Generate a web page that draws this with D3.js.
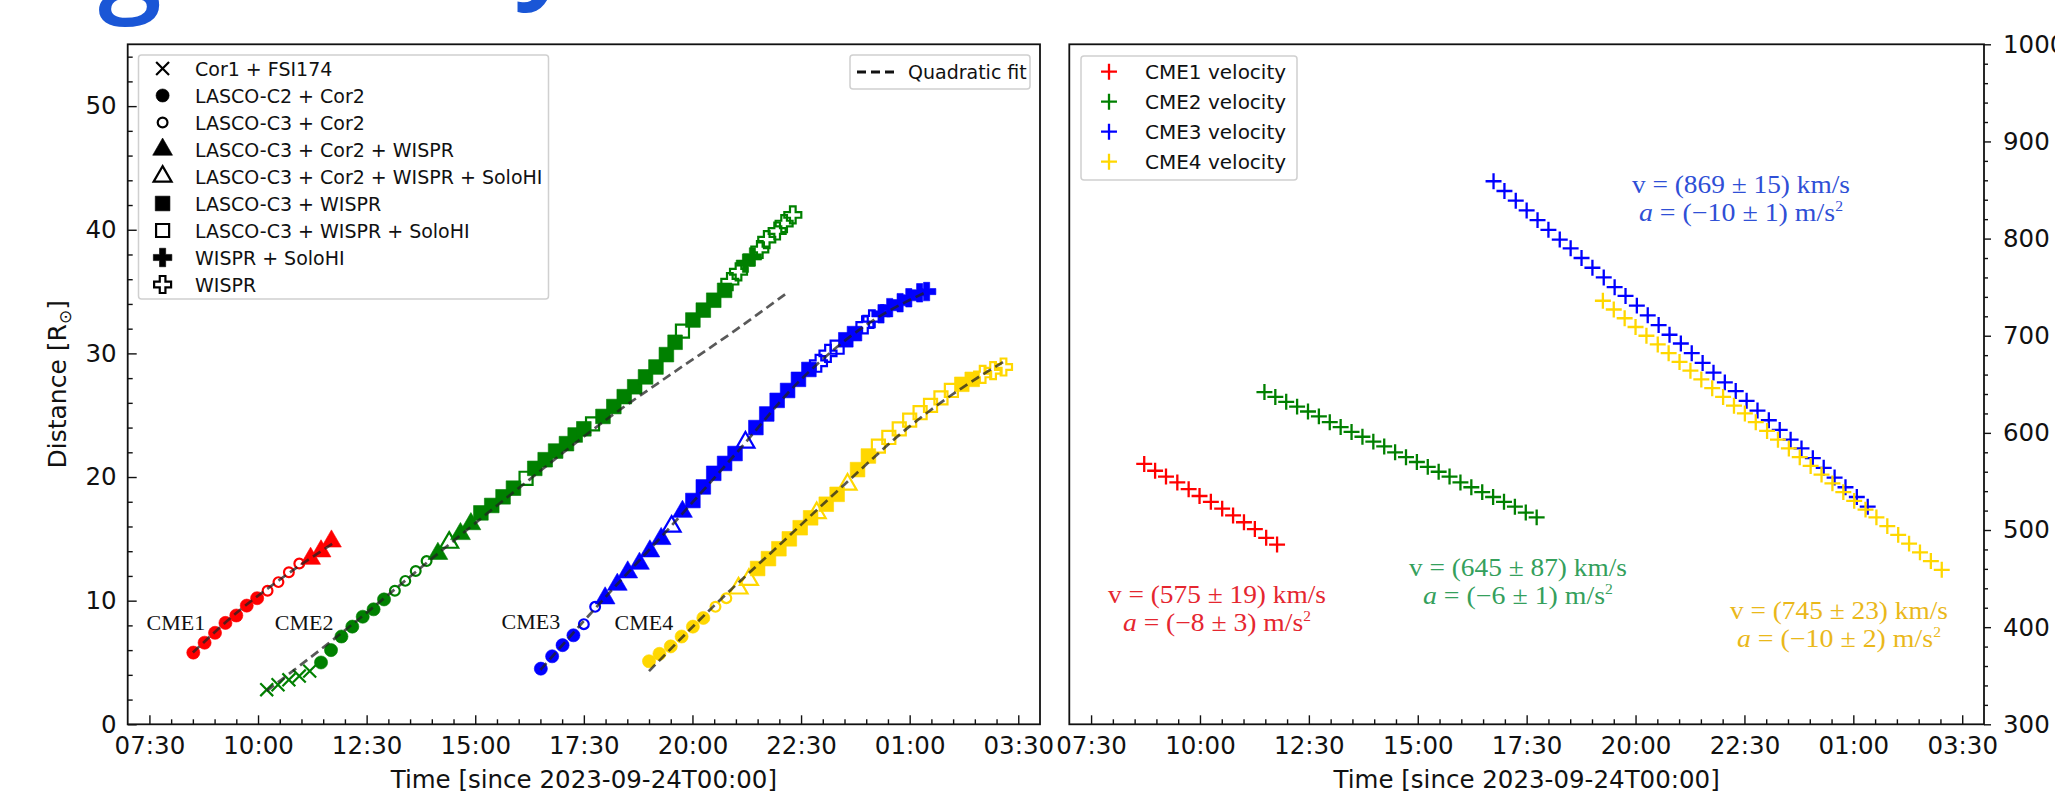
<!DOCTYPE html>
<html>
<head>
<meta charset="utf-8">
<script src="https://cdn.jsdelivr.net/npm/d3@7"></script>
<style>
body { margin: 0; background: #fff; }
svg { display: block; }
text { font-family: "DejaVu Sans", sans-serif; fill: #111; }
</style>
</head>
<body>
<svg id="chart" width="2055" height="797"></svg>
<script>
// ---- data (hours since 2023-09-24T00:00) ----
var timeTicks = [7.5, 10, 12.5, 15, 17.5, 20, 22.5, 25, 27.5]
var timeTickLabels = ["07:30", "10:00", "12:30", "15:00", "17:30", "20:00", "22:30", "01:00", "03:30"]
var distTicks = [0, 10, 20, 30, 40, 50]
var velTicks = [300, 400, 500, 600, 700, 800, 900, 1000]

var cme1T = [8.51, 8.77, 9.01, 9.25, 9.50, 9.74, 9.98, 10.22, 10.47, 10.71, 10.95, 11.21, 11.45, 11.69]
var cme1R = [5.8, 6.6, 7.4, 8.2, 8.8, 9.6, 10.2, 10.8, 11.5, 12.3, 13.0, 13.4, 14.0, 14.8]
var cme1M = ["c","c","c","c","c","c","c","oc","oc","oc","oc","t","t","t"]

var cme2T = [10.20, 10.46, 10.71, 10.95, 11.19, 11.45, 11.68, 11.92, 12.17, 12.41, 12.66, 12.90,
  13.15, 13.39, 13.63, 13.88, 14.14, 14.40, 14.66, 14.90, 15.13, 15.38, 15.64, 15.88, 16.17, 16.37,
  16.61, 16.85, 17.10, 17.30, 17.50, 17.70, 17.94, 18.19, 18.43, 18.67, 18.92, 19.16, 19.40, 19.60,
  19.77, 20.01, 20.25, 20.49, 20.74, 20.86, 21.06, 21.22, 21.38, 21.55, 21.71, 21.95, 22.11, 22.31]
var cme2R = [2.8, 3.2, 3.6, 3.9, 4.3, 5.0, 6.0, 7.1, 7.9, 8.7, 9.3, 10.1,
  10.8, 11.6, 12.4, 13.2, 13.8, 14.7, 15.4, 16.2, 17.1, 17.7, 18.4, 19.1, 19.9, 20.7,
  21.4, 22.1, 22.7, 23.4, 23.9, 24.3, 24.9, 25.7, 26.5, 27.3, 28.1, 28.9, 29.9, 30.9,
  31.8, 32.7, 33.5, 34.3, 35.1, 35.8, 36.6, 37.3, 37.8, 38.4, 39.2, 39.9, 40.5, 41.2]
var cme2M = ["x","x","x","x","x","c","c","c","c","c","c","c",
  "oc","oc","oc","oc","t","ot","t","t","s","s","s","s","os","s",
  "s","s","s","s","s","os","s","s","s","s","s","s","s","s",
  "os","s","s","s","s","op","op","fp","fp","op","op","op","op","op"]

var cme3T = [16.51, 16.77, 17.01, 17.26, 17.50, 17.76, 17.99, 18.27, 18.51, 18.78, 19.02, 19.28, 19.52,
  19.77, 20.01, 20.25, 20.49, 20.74, 20.98, 21.22, 21.46, 21.71, 21.95, 22.19, 22.44, 22.68, 22.90,
  23.12, 23.33, 23.53, 23.73, 23.97, 24.13, 24.34, 24.54, 24.78, 24.98, 25.23, 25.39]
var cme3R = [4.5, 5.5, 6.4, 7.2, 8.1, 9.5, 10.2, 11.3, 12.3, 13.0, 14.0, 15.0, 16.0,
  17.2, 18.1, 19.2, 20.3, 21.1, 21.9, 22.8, 24.0, 25.1, 26.2, 27.0, 27.9, 28.7, 29.2,
  30.0, 30.5, 31.1, 31.6, 32.3, 32.8, 33.2, 33.7, 34.1, 34.5, 34.9, 35.0]
var cme3M = ["c","c","c","c","oc","oc","t","t","t","t","t","t","ot",
  "t","s","s","s","s","s","ot","s","s","s","s","s","s","op",
  "op","os","s","s","op","op","fp","fp","fp","fp","fp","fp"]

var cme4T = [19.00, 19.24, 19.50, 19.75, 20.01, 20.25, 20.53, 20.78, 21.06, 21.30, 21.50, 21.75,
  21.99, 22.23, 22.48, 22.72, 22.86, 23.08, 23.33, 23.57, 23.80, 24.05, 24.28, 24.52, 24.76, 25.00,
  25.24, 25.48, 25.72, 25.96, 26.20, 26.44, 26.68, 26.92, 27.16]
var cme4R = [5.1, 5.7, 6.3, 7.1, 7.9, 8.6, 9.5, 10.2, 11.0, 11.7, 12.6, 13.4,
  14.2, 15.0, 15.9, 16.7, 17.1, 17.8, 18.6, 19.4, 20.6, 21.7, 22.5, 23.2, 23.9, 24.6,
  25.2, 25.8, 26.4, 27.0, 27.5, 27.9, 28.3, 28.6, 28.9]
var cme4M = ["c","c","c","c","c","c","oc","oc","ot","ot","s","s",
  "s","s","s","s","ot","s","s","ot","s","s","os","os","os","os",
  "os","os","os","os","s","s","op","op","op"]

// quadratic fits
var fit1T = [8.5, 9.5, 10.5, 11.75], fit1R = [5.8, 9.0, 11.7, 14.7]
var fit2T = [10.2, 12.0, 14.0, 16.0, 18.0, 19.5, 21.0, 22.18], fit2R = [2.7, 7.6, 13.4, 19.1, 24.6, 28.3, 31.9, 34.9]
var fit3T = [16.5, 18.0, 19.5, 21.0, 22.5, 24.0, 25.4], fit3R = [4.4, 10.3, 16.0, 21.9, 27.9, 32.3, 35.0]
var fit4T = [19.0, 20.5, 22.0, 23.5, 25.0, 26.2, 27.2], fit4R = [4.3, 9.6, 14.5, 19.4, 24.1, 27.2, 29.4]

// velocities (km/s)
var vel1T = [8.72, 8.97, 9.22, 9.48, 9.74, 9.99, 10.25, 10.51, 10.76, 11.01, 11.26, 11.52, 11.77]
var vel1V = [568, 561, 555, 549, 542, 535, 529, 522, 515, 508, 501, 492, 485]
var vel2T = [11.48, 11.73, 11.98, 12.23, 12.48, 12.73, 12.98, 13.23, 13.48, 13.73, 13.98, 14.23, 14.48,
  14.73, 14.98, 15.23, 15.48, 15.73, 15.98, 16.23, 16.48, 16.73, 16.98, 17.23, 17.48, 17.73]
var vel2V = [642, 637, 632, 627, 622, 617, 611, 606, 601, 596, 591, 586, 580,
  575, 570, 565, 560, 555, 549, 544, 539, 534, 529, 524, 518, 513]
var vel3T = [16.74, 16.99, 17.25, 17.50, 17.75, 18.00, 18.26, 18.51, 18.76, 19.01, 19.27, 19.52,
  19.77, 20.03, 20.28, 20.53, 20.78, 21.04, 21.29, 21.54, 21.79, 22.05, 22.30, 22.55, 22.80,
  23.06, 23.31, 23.56, 23.81, 24.07, 24.32, 24.57, 24.82, 25.08, 25.33]
var vel3V = [859, 849, 839, 829, 819, 809, 799, 790, 780, 770, 760, 750,
  741, 731, 721, 711, 701, 692, 682, 672, 662, 652, 643, 633, 623,
  613, 603, 593, 584, 574, 564, 554, 544, 534, 524]
var vel4T = [19.25, 19.50, 19.75, 20.00, 20.25, 20.51, 20.76, 21.01, 21.26, 21.51, 21.76, 22.01,
  22.26, 22.51, 22.76, 23.02, 23.27, 23.52, 23.77, 24.02, 24.27, 24.52, 24.77, 25.02,
  25.28, 25.53, 25.78, 26.03, 26.28, 26.53, 26.78, 27.03]
var vel4V = [736, 727, 718, 709, 700, 691, 682, 673, 664, 655, 646, 637,
  628, 620, 611, 602, 593, 584, 575, 566, 557, 548, 539, 530,
  521, 513, 504, 495, 486, 477, 468, 459]

var cmeNames = ["CME1", "CME2", "CME3", "CME4"]
var cmeColors = ["#ff0000", "#008000", "#0000ff", "#ffd700"]
var textColors = ["#e5262f", "#34a05c", "#2f4fd6", "#eab81a"]
var labelT = [8.11, 11.06, 16.28, 18.88], labelR = [8.2, 8.2, 8.3, 8.2]
var fitLines = [[fit1T, fit1R], [fit2T, fit2R], [fit3T, fit3R], [fit4T, fit4R]]
var cmeSets = [[cme1T, cme1R, cme1M], [cme2T, cme2R, cme2M], [cme3T, cme3R, cme3M], [cme4T, cme4R, cme4M]]
var velSets = [[vel1T, vel1V], [vel2T, vel2V], [vel3T, vel3V], [vel4T, vel4V]]

var legendCodes = ["x", "c", "oc", "t", "ot", "s", "os", "fp", "op"]
var legendNames = ["Cor1 + FSI174", "LASCO-C2 + Cor2", "LASCO-C3 + Cor2", "LASCO-C3 + Cor2 + WISPR",
  "LASCO-C3 + Cor2 + WISPR + SoloHI", "LASCO-C3 + WISPR", "LASCO-C3 + WISPR + SoloHI", "WISPR + SoloHI", "WISPR"]

var fitV = ["(575 ± 19)", "(645 ± 87)", "(869 ± 15)", "(745 ± 23)"]
var fitA = ["(−8 ± 3)", "(−6 ± 1)", "(−10 ± 1)", "(−10 ± 2)"]
var fitAWidth = [188, 190, 204, 204]
var annT = [10.39, 17.30, 22.42, 24.67], annV = [433, 461, 855, 417]

// ---- layout ----
var svg = d3.select("#chart")
var plotTop = 44.3, plotBottom = 724.3
var xL = d3.scaleLinear().domain([7.0, 28.0]).range([127.7, 1040])
var xR = d3.scaleLinear().domain([7.0, 28.0]).range([1069.3, 1984])
var yL = d3.scaleLinear().domain([0, 55]).range([plotBottom, plotTop])
var yR = d3.scaleLinear().domain([300, 1000]).range([plotBottom, plotTop])
var tickFont = 24.5

// cut-off slide title above the figure (only descenders show)
svg.append("text").attr("x", 98).attr("y", 0).text("g")
    .style("font-family", "'Open Sans', sans-serif").style("font-weight", 600)
    .style("font-size", "115px").style("fill", "#1a56d6")
svg.append("text").attr("x", 515).attr("y", -14).text("y")
    .style("font-family", "'Open Sans', sans-serif").style("font-weight", 600)
    .style("font-size", "115px").style("fill", "#1a56d6")

var markerStyle = {
    x:  [d3.symbolTimes, 110, false],
    c:  [d3.symbolCircle, 135, true],
    oc: [d3.symbolCircle, 75, false],
    t:  [d3.symbolTriangle, 170, true],
    ot: [d3.symbolTriangle, 140, false],
    s:  [d3.symbolSquare, 215, true],
    os: [d3.symbolSquare, 170, false],
    fp: [d3.symbolCross, 190, true],
    op: [d3.symbolCross, 160, false]
}

function drawMarker(g, code, x, y, color) {
    var st = markerStyle[code]
    g.append("path")
        .attr("d", d3.symbol().type(st[0]).size(st[1])())
        .attr("transform", "translate(" + x + "," + y + ")")
        .attr("fill", st[2] ? color : "none")
        .attr("stroke", color)
        .attr("stroke-width", st[2] ? 0.6 : 2.2)
}

function minorRange(a, b, step, skip) {
    return d3.range(a, b + 1e-9, step).filter(function(d) { return Math.abs(d / skip - Math.round(d / skip)) > 1e-6 })
}

function styleAxis(g, size) {
    g.select(".domain").remove()
    g.selectAll("line").attr("stroke", "#111").attr("stroke-width", 1.4)
    g.selectAll("text").style("font-size", size + "px").attr("fill", "#111")
}

// ---- left panel ----
var left = svg.append("g")

left.append("g").attr("transform", "translate(0," + plotBottom + ")")
    .call(d3.axisBottom(xL).tickValues(timeTicks).tickFormat(function(d, i) { return timeTickLabels[i] })
        .tickSize(-9).tickPadding(12))
    .call(styleAxis, tickFont)
left.append("g").attr("transform", "translate(0," + plotBottom + ")")
    .call(d3.axisBottom(xL).tickValues(minorRange(7.5, 27.5, 0.5, 2.5)).tickFormat("").tickSize(-5))
    .call(styleAxis, tickFont)
left.append("g").attr("transform", "translate(127.7,0)")
    .call(d3.axisLeft(yL).tickValues(distTicks).tickSize(-9).tickPadding(11))
    .call(styleAxis, tickFont)
left.append("g").attr("transform", "translate(127.7,0)")
    .call(d3.axisLeft(yL).tickValues(minorRange(0, 54, 2, 10)).tickFormat("").tickSize(-5))
    .call(styleAxis, tickFont)

var ylab = left.append("text")
    .attr("transform", "translate(66," + ((plotTop + plotBottom) / 2) + ") rotate(-90)")
    .attr("text-anchor", "middle")
    .style("font-size", "25px")
ylab.append("tspan").text("Distance [R")
ylab.append("tspan").text("⊙").style("font-size", "17px").attr("dy", 5)
ylab.append("tspan").text("]").attr("dy", -5)

left.append("text").attr("x", (127.7 + 1040) / 2).attr("y", 788)
    .attr("text-anchor", "middle").style("font-size", "24.5px")
    .text("Time [since 2023-09-24T00:00]")

var marks = left.append("g")
cmeSets.forEach(function(set, k) {
    set[0].forEach(function(t, i) {
        drawMarker(marks, set[2][i], xL(t), yL(set[1][i]), cmeColors[k])
    })
})

var fitLine = d3.line().curve(d3.curveMonotoneX)
fitLines.forEach(function(f) {
    left.append("path")
        .attr("d", fitLine(f[0].map(function(t, i) { return [xL(t), yL(f[1][i])] })))
        .attr("fill", "none")
        .attr("stroke", "#222")
        .attr("stroke-opacity", 0.75)
        .attr("stroke-width", 2.7)
        .attr("stroke-dasharray", "9,5")
})

cmeNames.forEach(function(n, k) {
    left.append("text").attr("x", xL(labelT[k])).attr("y", yL(labelR[k]))
        .attr("text-anchor", "middle").attr("dominant-baseline", "central")
        .style("font-family", "'Liberation Serif', serif").style("font-size", "22px")
        .text(n)
})

// legends (left)
var lg = left.append("g")
lg.append("rect").attr("x", 138.5).attr("y", 55).attr("width", 410).attr("height", 244)
    .attr("rx", 3).attr("fill", "#fff").attr("fill-opacity", 0.85).attr("stroke", "#d0d0d0").attr("stroke-width", 1.5)
legendCodes.forEach(function(code, i) {
    var y = 68.5 + 27 * i
    drawMarker(lg, code, 162.6, y, "#000")
    lg.append("text").attr("x", 195).attr("y", y).attr("dominant-baseline", "central")
        .style("font-size", "19px").text(legendNames[i])
})

var lq = left.append("g")
lq.append("rect").attr("x", 850).attr("y", 55).attr("width", 180).attr("height", 34)
    .attr("rx", 3).attr("fill", "#fff").attr("stroke", "#d0d0d0").attr("stroke-width", 1.5)
lq.append("line").attr("x1", 857).attr("x2", 897).attr("y1", 72).attr("y2", 72)
    .attr("stroke", "#111").attr("stroke-width", 2.8).attr("stroke-dasharray", "9,5")
lq.append("text").attr("x", 908).attr("y", 72).attr("dominant-baseline", "central")
    .style("font-size", "19px").text("Quadratic fit")

left.append("rect").attr("x", 127.7).attr("y", plotTop).attr("width", 1040 - 127.7).attr("height", plotBottom - plotTop)
    .attr("fill", "none").attr("stroke", "#111").attr("stroke-width", 1.8)

// ---- right panel ----
var right = svg.append("g")

right.append("g").attr("transform", "translate(0," + plotBottom + ")")
    .call(d3.axisBottom(xR).tickValues(timeTicks).tickFormat(function(d, i) { return timeTickLabels[i] })
        .tickSize(-9).tickPadding(12))
    .call(styleAxis, tickFont)
right.append("g").attr("transform", "translate(0," + plotBottom + ")")
    .call(d3.axisBottom(xR).tickValues(minorRange(7.5, 27.5, 0.5, 2.5)).tickFormat("").tickSize(-5))
    .call(styleAxis, tickFont)
right.append("g").attr("transform", "translate(1984,0)")
    .call(d3.axisRight(yR).tickValues(velTicks).tickFormat(d3.format("d")).tickSize(7).tickPadding(12))
    .call(styleAxis, tickFont)
right.append("g").attr("transform", "translate(1984,0)")
    .call(d3.axisRight(yR).tickValues(minorRange(300, 1000, 20, 100)).tickFormat("").tickSize(4))
    .call(styleAxis, tickFont)

right.append("text").attr("x", (1069.3 + 1984) / 2).attr("y", 788)
    .attr("text-anchor", "middle").style("font-size", "24.5px")
    .text("Time [since 2023-09-24T00:00]")

var plus = d3.symbol().type(d3.symbolPlus).size(85)
velSets.forEach(function(set, k) {
    right.append("g").selectAll("path").data(set[0]).enter().append("path")
        .attr("d", plus())
        .attr("transform", function(t, i) { return "translate(" + xR(t) + "," + yR(set[1][i]) + ")" })
        .attr("fill", "none")
        .attr("stroke", cmeColors[k])
        .attr("stroke-width", 2.3)
})

cmeNames.forEach(function(n, k) {
    var x = xR(annT[k]), y = yR(annV[k])
    var t1 = right.append("text").attr("x", x).attr("y", y + 8).attr("text-anchor", "middle")
        .style("font-family", "'Liberation Serif', serif").style("font-size", "25px").style("fill", textColors[k])
        .attr("textLength", 218).attr("lengthAdjust", "spacingAndGlyphs")
    t1.text("v = " + fitV[k] + " km/s")
    var t2 = right.append("text").attr("x", x).attr("y", y + 36).attr("text-anchor", "middle")
        .style("font-family", "'Liberation Serif', serif").style("font-size", "25px").style("fill", textColors[k])
        .attr("textLength", fitAWidth[k]).attr("lengthAdjust", "spacingAndGlyphs")
    t2.append("tspan").style("font-style", "italic").text("a")
    t2.append("tspan").text(" = " + fitA[k] + " m/s")
    t2.append("tspan").text("2").style("font-size", "14px").attr("dy", -10)
})

var rl = right.append("g")
rl.append("rect").attr("x", 1081).attr("y", 56).attr("width", 216).attr("height", 124)
    .attr("rx", 3).attr("fill", "#fff").attr("stroke", "#d0d0d0").attr("stroke-width", 1.5)
cmeNames.forEach(function(n, k) {
    var y = 71.7 + 30 * k
    rl.append("path").attr("d", plus()).attr("transform", "translate(1109," + y + ")")
        .attr("fill", "none").attr("stroke", cmeColors[k]).attr("stroke-width", 2.3)
    rl.append("text").attr("x", 1145).attr("y", y).attr("dominant-baseline", "central")
        .style("font-size", "20px").text(n + " velocity")
})

right.append("rect").attr("x", 1069.3).attr("y", plotTop).attr("width", 1984 - 1069.3).attr("height", plotBottom - plotTop)
    .attr("fill", "none").attr("stroke", "#111").attr("stroke-width", 1.8)
</script>
</body>
</html>
